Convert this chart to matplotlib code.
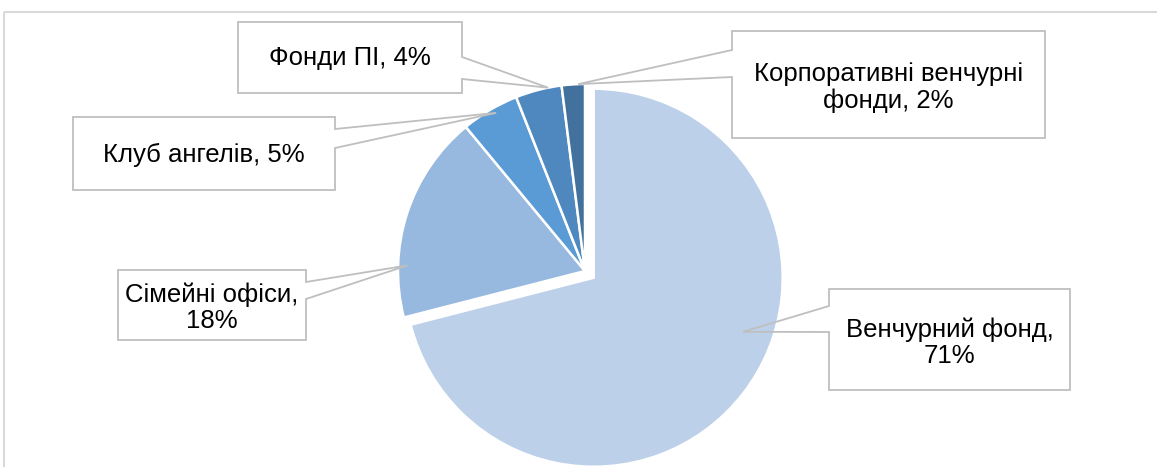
import numpy as np
import matplotlib
matplotlib.use('Agg')
import matplotlib.pyplot as plt
from matplotlib.patches import Polygon, Rectangle

# дані
names = ['Венчурний фонд', 'Сімейні офіси', 'Клуб ангелів', 'Фонди ПІ', 'Корпоративні венчурні фонди']
shares = [71, 18, 5, 4, 2]
colors = ['#BDD0EA', '#97B8DF', '#5B9BD5', '#4E88BF', '#41719C']
label_text = ['Венчурний фонд,\n71%', 'Сімейні офіси,\n18%', 'Клуб ангелів, 5%',
              'Фонди ПІ, 4%', 'Корпоративні венчурні\nфонди, 2%']

# розмітка (пікселі)
W, H = 1157, 467
center = (585, 271)
R = 187
explode = [11, 0, 0, 0, 0]
boxes = [(829, 289, 1070, 390), (118, 270, 306, 340), (73, 117, 335, 190),
         (238, 22, 462, 93), (732, 31, 1045, 138)]
sides = ['left', 'right', 'right', 'right', 'left']
bases = [(306, 332), (282, 299), (129, 148), (57, 79), (50, 77)]
tip_frac = [(0.43, 0.84), (0.25, 0.95), (0.57, 0.97), (0.71, 1.0), (0.71, 1.0)]

plt.rcParams['font.family'] = ['Liberation Sans', 'DejaVu Sans']
fig = plt.figure(figsize=(W / 100, H / 100), dpi=100)
ax = fig.add_axes([0, 0, 1, 1])

wedges, _ = ax.pie(shares, colors=colors, radius=R, center=center, explode=explode,
                   startangle=-90, counterclock=True,
                   wedgeprops=dict(edgecolor='white', linewidth=1.8))
wedges[0].set_radius(R + 2)
ax.set_xlim(0, W)
ax.set_ylim(H, 0)
ax.set_aspect('equal')
ax.axis('off')

# рамка діаграми
ax.add_patch(Rectangle((4, 12), W + 10, H, fill=False, edgecolor='#D9D9D9', lw=1.5))

for w, txt, box, side, base, (fa, fr) in zip(wedges, label_text, boxes, sides, bases, tip_frac):
    cx, cy = w.center
    ang = np.radians(w.theta1 + fa * (w.theta2 - w.theta1))
    tip = (cx + fr * w.r * np.cos(ang), cy + fr * w.r * np.sin(ang))
    x0, y0, x1, y1 = box
    ax.add_patch(Rectangle((x0, y0), x1 - x0, y1 - y0, facecolor='white', edgecolor='none', zorder=3))
    if side == 'right':
        pts = [(x0, y0), (x1, y0), (x1, base[0]), tip, (x1, base[1]), (x1, y1), (x0, y1)]
    else:
        pts = [(x0, y0), (x1, y0), (x1, y1), (x0, y1), (x0, base[1]), tip, (x0, base[0])]
    ax.add_patch(Polygon(pts, closed=True, fill=False, edgecolor='#BFBFBF', lw=1.3, zorder=4))
    dy = 3 if '\n' in txt else 1
    ax.text((x0 + x1) / 2, (y0 + y1) / 2 + dy, txt, ha='center', va='center',
            fontsize=18.5, color='black', linespacing=1.08, zorder=5)

fig.savefig('out.png', dpi=100)
